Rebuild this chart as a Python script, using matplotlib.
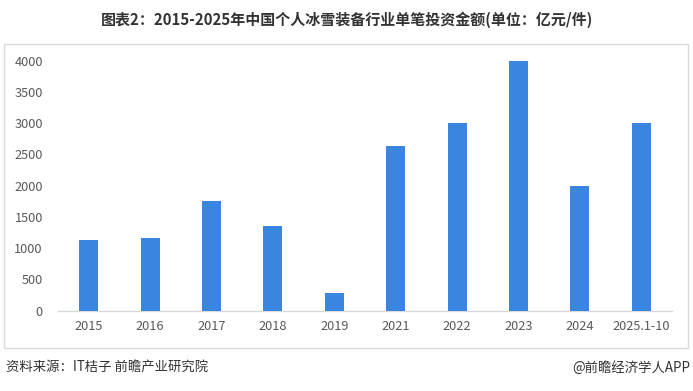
import matplotlib
matplotlib.use("Agg")
import matplotlib.pyplot as plt
from matplotlib.patches import Rectangle

plt.rcParams['font.family'] = ['Noto Sans CJK SC', 'DejaVu Sans']

categories = ["2015", "2016", "2017", "2018", "2019", "2021", "2022", "2023", "2024", "2025.1-10"]
values = [1130, 1160, 1755, 1355, 285, 2635, 3000, 4000, 2000, 3000]
yticks = [0, 500, 1000, 1500, 2000, 2500, 3000, 3500, 4000]

title = "图表2：2015-2025年中国个人冰雪装备行业单笔投资金额(单位：亿元/件)"
source = "资料来源：IT桔子 前瞻产业研究院"
credit = "@前瞻经济学人APP"

W, H = 693, 391
fig = plt.figure(figsize=(W / 100, H / 100), dpi=100)
fig.patch.set_facecolor("white")

# outer frame
fig.patches.append(Rectangle((4 / W, 1 - 348 / H), (688 - 4) / W, (348 - 44) / H,
                             transform=fig.transFigure, fill=False,
                             edgecolor="#d9d9d9", linewidth=1.0))

ax = fig.add_axes([58 / W, 1 - 310.7 / H, (672 - 58) / W, 250 / H])
x = range(len(categories))
ax.bar(x, values, width=0.31, color="#3A85E0", zorder=3)
ax.set_xlim(-0.5, len(categories) - 0.5)
ax.set_ylim(0, 4000)
ax.set_yticks(yticks)
ax.set_yticklabels([str(v) for v in yticks])
ax.set_xticks(list(x))
ax.set_xticklabels(categories)
for s in ["top", "right", "left"]:
    ax.spines[s].set_visible(False)
ax.spines["bottom"].set_color("#d9d9d9")
ax.spines["bottom"].set_linewidth(1.0)
ax.tick_params(axis="both", length=0, labelsize=9.2, labelcolor="#595959")
ax.tick_params(axis="y", pad=11)
ax.tick_params(axis="x", pad=7)
ax.set_facecolor("none")

fig.text(0.5, 1 - 20 / H, title, ha="center", va="center", fontsize=10.8,
         fontweight="bold", color="#333333")
fig.text(6 / W, 1 - 368 / H, source, ha="left", va="center", fontsize=9.6, color="#333333")
fig.text(690 / W, 1 - 368 / H, credit, ha="right", va="center", fontsize=9.6, color="#333333")

fig.savefig("out.png", dpi=100, facecolor="white")
